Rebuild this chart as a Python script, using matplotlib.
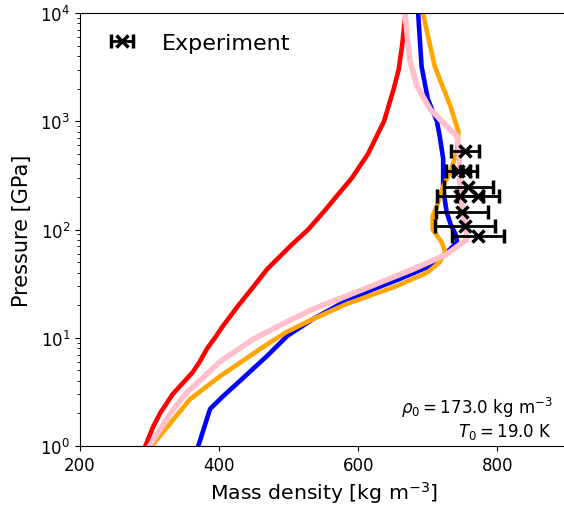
import numpy as np
import matplotlib

matplotlib.use("Agg")
import matplotlib.pyplot as plt

# model curves: pressure [GPa] vs mass density [kg m^-3]
red_p = [1, 1.5, 2, 3, 4.8, 6, 8, 10, 13, 20, 30, 43, 70, 100, 150, 200, 300, 500, 1000, 2000, 3000, 5000, 10000]
red_rho = [294, 305, 315, 333, 362, 372, 383, 394, 406, 428, 450, 469, 502, 528, 552, 568, 591, 614, 637, 651, 658, 663, 668]

blue_p = [1, 2.2, 2.9, 4, 6.8, 10.4, 14.9, 20.5, 28, 35, 46, 57, 76, 90, 110, 145, 237, 450, 730, 1000, 1600, 3200, 10000]
blue_rho = [370, 387, 406, 430, 469, 498, 535, 574, 621, 660, 703, 722, 742, 740, 733, 727, 722, 722, 717, 713, 700, 691, 686]

orange_p = [1, 2.7, 4.4, 8.7, 11.3, 14.9, 20.5, 30, 40, 50, 62, 76, 100, 133, 165, 250, 340, 520, 800, 1400, 3200, 6600, 10000]
orange_rho = [303, 358, 401, 469, 497, 535, 583, 655, 699, 717, 725, 720, 707, 707, 713, 722, 732, 742, 744, 732, 710, 699, 693]

pink_p = [1, 2, 3.15, 4, 6, 9.7, 14, 18.4, 28, 43, 59, 81, 100, 150, 250, 500, 730, 900, 1300, 2140, 3700, 10000]
pink_rho = [300, 330, 354, 372, 401, 449, 497, 535, 607, 679, 727, 756, 755, 750, 746, 745, 742, 727, 703, 684, 674, 667]

# experiment points
exp_rho = [753, 743, 753, 758, 746, 772, 749, 753, 772]
exp_p = [531, 347, 347, 247, 204, 204, 145, 108, 87]
exp_err = [20, 17, 17, 35, 33, 30, 38, 43, 38]

fig = plt.figure(figsize=(5.64, 5.10), dpi=100)
ax = fig.add_axes([80 / 564, 63 / 510, 487 / 564, 433 / 510])

ax.plot(red_rho, red_p, color="red", lw=3.3)
ax.plot(blue_rho, blue_p, color="blue", lw=3.3)
ax.plot(orange_rho, orange_p, color="orange", lw=3.3)
ax.plot(pink_rho, pink_p, color="pink", lw=4)

ax.errorbar(exp_rho, exp_p, xerr=exp_err, fmt="x", color="black",
            ms=9, mew=2.5, elinewidth=2, capsize=5, capthick=2,
            label="Experiment", zorder=5)

ax.set_yscale("log")
ax.set_xlim(200, 900)
ax.set_ylim(1, 1e4)
ax.set_xticks([200, 400, 600, 800])
ax.tick_params(labelsize=12)
ax.set_xlabel("Mass density [kg m$^{-3}$]", fontsize=14.7)
ax.set_ylabel("Pressure [GPa]", fontsize=15, labelpad=6)

ax.legend(loc="upper left", frameon=False, fontsize=16)
ax.text(0.97, 0.012, "$\\rho_0 = 173.0$ kg m$^{-3}$\n$T_0 = 19.0$ K",
        transform=ax.transAxes, ha="right", va="bottom",
        multialignment="right", fontsize=12, linespacing=1.15)

fig.savefig("out.png", dpi=100)
